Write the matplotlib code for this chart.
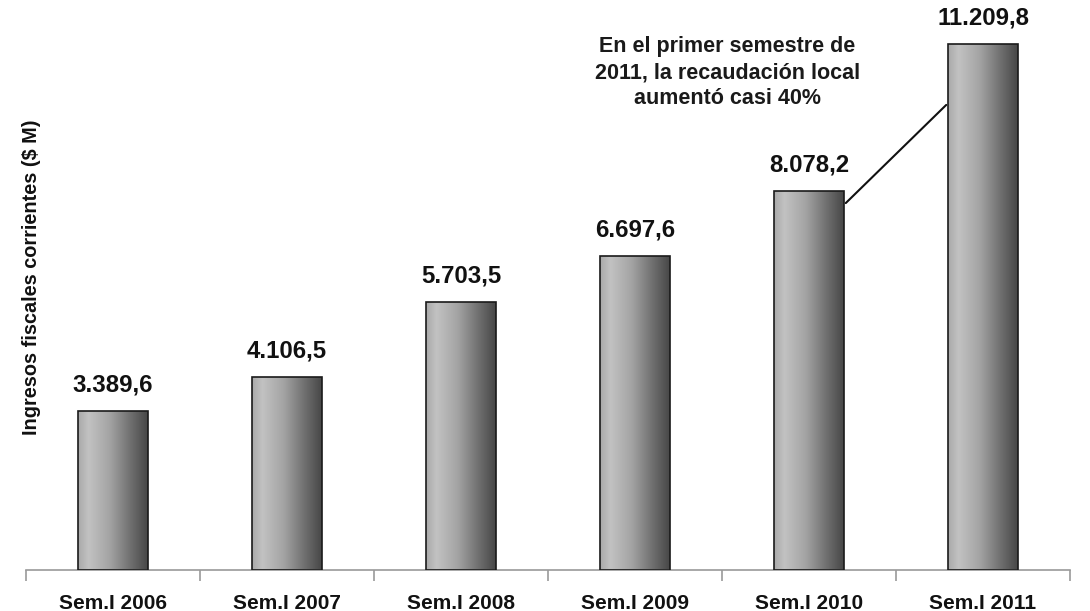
import matplotlib
import numpy as np

matplotlib.use("Agg")
import matplotlib.pyplot as plt
from matplotlib.colors import LinearSegmentedColormap

# data
categories = ["Sem.I 2006", "Sem.I 2007", "Sem.I 2008", "Sem.I 2009", "Sem.I 2010", "Sem.I 2011"]
values = [3389.6, 4106.5, 5703.5, 6697.6, 8078.2, 11209.8]
value_labels = ["3.389,6", "4.106,5", "5.703,5", "6.697,6", "8.078,2", "11.209,8"]
note = "En el primer semestre de\n2011, la recaudación local\naumentó casi 40%"

plt.rcParams["font.family"] = ["Liberation Sans", "DejaVu Sans"]

fig = plt.figure(figsize=(10.9, 6.11), dpi=100)
ax = fig.add_axes([26 / 1090, 41 / 611, 1044 / 1090, 570 / 611])

x = np.arange(len(categories))
width = 0.40
bars = ax.bar(x, values, width=width, color="none", edgecolor="#1a1a1a", linewidth=1.2, zorder=3)

# cylinder-like gray gradient inside each bar
cmap = LinearSegmentedColormap.from_list(
    "cyl", [(0.0, "#a9a9a9"), (0.15, "#c2c2c2"), (0.45, "#a4a4a4"), (0.75, "#707070"), (1.0, "#474747")]
)
grad = np.linspace(0, 1, 256).reshape(1, -1)
for b in bars:
    x0, y0 = b.get_x(), b.get_y()
    im = ax.imshow(grad, cmap=cmap, aspect="auto", extent=[x0, x0 + b.get_width(), y0, y0 + b.get_height()],
                   zorder=2, interpolation="bicubic")
    im.set_clip_path(b)

for xi, v, lab in zip(x, values, value_labels):
    ax.annotate(lab, (xi, v), xytext=(0, 10.5), textcoords="offset points", ha="center", va="bottom",
                fontsize=17.3, fontweight="bold", color="#111111")

ax.set_xlim(-0.5, len(categories) - 0.5)
ax.set_ylim(0, 12148)

ax.annotate("", xy=(4.8, 9953), xytext=(4.2, 7779),
            arrowprops=dict(arrowstyle="-", color="#111111", lw=1.5), zorder=4)
ax.text(3.53, 10600, note, ha="center", va="center", fontsize=15.5, fontweight="bold",
        color="#1a1a1a", linespacing=1.3)

for s in ["top", "right", "left"]:
    ax.spines[s].set_visible(False)
ax.spines["bottom"].set_color("#9a9a9a")
ax.spines["bottom"].set_linewidth(1.2)
ax.set_yticks([])

ax.set_xticks(x)
ax.set_xticklabels(categories, fontsize=15, fontweight="bold", color="#111111")
ax.tick_params(axis="x", which="major", length=0, pad=17)
ax.set_xticks(np.arange(-0.5, len(categories)), minor=True)
ax.tick_params(axis="x", which="minor", length=8, width=1.2, color="#9a9a9a", direction="out")

fig.text(32 / 1090, 1 - 277 / 611, "Ingresos fiscales corrientes ($ M)", rotation=90, ha="center", va="center",
         fontsize=14.3, fontweight="bold", color="#111111")

fig.savefig("out.png", dpi=100)
